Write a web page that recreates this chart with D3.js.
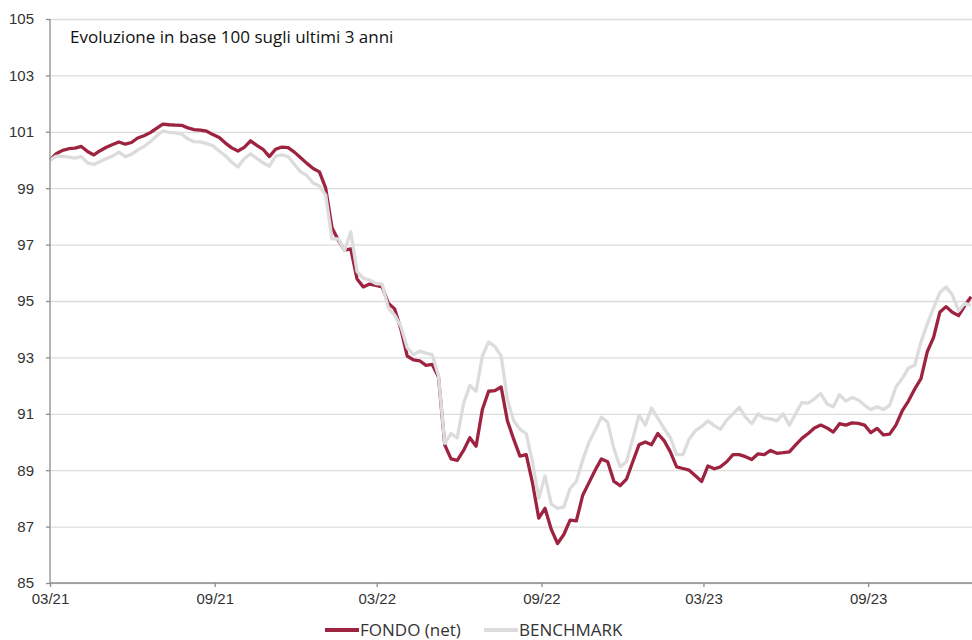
<!DOCTYPE html>
<html>
<head>
<meta charset="utf-8">
<script src="https://cdn.jsdelivr.net/npm/d3@7"></script>
<style>
  body { margin: 0; background: #fff; }
  svg { display: block; font-family: "Open Sans", sans-serif; }
  .grid line { stroke: #dcdcdc; stroke-width: 1.3; }
  .axis path, .axis line { stroke: #8c8c8c; stroke-width: 1.3; }
  .axis text { fill: #333; font-size: 15px; }
</style>
</head>
<body>
<svg id="chart"></svg>
<script>
// weekly observations (Monday)
const dates = [
  "2021-03-01","2021-03-08","2021-03-15","2021-03-22","2021-03-29","2021-04-05","2021-04-12","2021-04-19","2021-04-26","2021-05-03",
  "2021-05-10","2021-05-17","2021-05-24","2021-05-31","2021-06-07","2021-06-14","2021-06-21","2021-06-28","2021-07-05","2021-07-12",
  "2021-07-19","2021-07-26","2021-08-02","2021-08-09","2021-08-16","2021-08-23","2021-08-30","2021-09-06","2021-09-13","2021-09-20",
  "2021-09-27","2021-10-04","2021-10-11","2021-10-18","2021-10-25","2021-11-01","2021-11-08","2021-11-15","2021-11-22","2021-11-29",
  "2021-12-06","2021-12-13","2021-12-20","2021-12-27","2022-01-03","2022-01-10","2022-01-17","2022-01-24","2022-01-31","2022-02-07",
  "2022-02-14","2022-02-21","2022-02-28","2022-03-07","2022-03-14","2022-03-21","2022-03-28","2022-04-04","2022-04-11","2022-04-18",
  "2022-04-25","2022-05-02","2022-05-09","2022-05-16","2022-05-23","2022-05-30","2022-06-06","2022-06-13","2022-06-20","2022-06-27",
  "2022-07-04","2022-07-11","2022-07-18","2022-07-25","2022-08-01","2022-08-08","2022-08-15","2022-08-22","2022-08-29","2022-09-05",
  "2022-09-12","2022-09-19","2022-09-26","2022-10-03","2022-10-10","2022-10-17","2022-10-24","2022-10-31","2022-11-07","2022-11-14",
  "2022-11-21","2022-11-28","2022-12-05","2022-12-12","2022-12-19","2022-12-26","2023-01-02","2023-01-09","2023-01-16","2023-01-23",
  "2023-01-30","2023-02-06","2023-02-13","2023-02-20","2023-02-27","2023-03-06","2023-03-13","2023-03-20","2023-03-27","2023-04-03",
  "2023-04-10","2023-04-17","2023-04-24","2023-05-01","2023-05-08","2023-05-15","2023-05-22","2023-05-29","2023-06-05","2023-06-12",
  "2023-06-19","2023-06-26","2023-07-03","2023-07-10","2023-07-17","2023-07-24","2023-07-31","2023-08-07","2023-08-14","2023-08-21",
  "2023-08-28","2023-09-04","2023-09-11","2023-09-18","2023-09-25","2023-10-02","2023-10-09","2023-10-16","2023-10-23","2023-10-30",
  "2023-11-06","2023-11-13","2023-11-20","2023-11-27","2023-12-04","2023-12-11","2023-12-18","2023-12-25"
];

const fondo = [
  100.00,100.22,100.34,100.40,100.42,100.48,100.30,100.18,100.33,100.45,
  100.55,100.64,100.56,100.62,100.78,100.86,100.97,101.12,101.27,101.25,
  101.24,101.23,101.14,101.08,101.06,101.02,100.90,100.80,100.60,100.43,
  100.32,100.45,100.68,100.52,100.38,100.12,100.38,100.46,100.44,100.28,
  100.08,99.88,99.70,99.58,99.00,97.60,97.16,96.80,96.85,95.78,
  95.50,95.60,95.55,95.50,94.92,94.72,94.00,93.05,92.91,92.88,
  92.72,92.75,92.30,89.90,89.40,89.35,89.70,90.15,89.85,91.15,
  91.80,91.82,91.95,90.75,90.10,89.50,89.55,88.55,87.30,87.65,
  86.90,86.40,86.72,87.23,87.20,88.10,88.55,89.00,89.40,89.30,
  88.60,88.45,88.68,89.30,89.90,90.00,89.90,90.30,90.05,89.65,
  89.12,89.06,89.00,88.80,88.60,89.15,89.05,89.12,89.30,89.55,
  89.55,89.48,89.38,89.58,89.55,89.70,89.60,89.62,89.65,89.90,
  90.13,90.30,90.50,90.60,90.50,90.35,90.65,90.60,90.68,90.66,
  90.60,90.33,90.48,90.25,90.28,90.60,91.10,91.45,91.88,92.25,
  93.20,93.70,94.60,94.80,94.60,94.48,94.84,95.15
];

const benchmark = [
  100.00,100.14,100.13,100.10,100.07,100.12,99.90,99.84,99.95,100.05,
  100.14,100.28,100.12,100.20,100.36,100.48,100.65,100.85,101.03,100.98,
  100.96,100.92,100.75,100.65,100.64,100.58,100.50,100.32,100.15,99.92,
  99.75,100.05,100.22,100.06,99.90,99.78,100.14,100.18,100.12,99.85,
  99.58,99.45,99.18,99.08,98.75,97.20,97.20,96.78,97.45,96.05,
  95.80,95.75,95.62,95.60,94.75,94.50,94.10,93.35,93.10,93.22,
  93.15,93.10,92.35,89.95,90.30,90.15,91.37,92.00,91.80,93.05,
  93.55,93.38,93.05,91.50,90.75,90.45,90.30,89.30,88.00,88.80,
  87.80,87.65,87.70,88.35,88.60,89.35,89.98,90.42,90.88,90.70,
  89.75,89.12,89.30,90.10,90.95,90.60,91.20,90.85,90.48,90.15,
  89.55,89.55,90.10,90.40,90.55,90.75,90.58,90.45,90.78,91.00,
  91.23,90.88,90.65,91.00,90.85,90.82,90.75,91.00,90.60,91.00,
  91.40,91.38,91.53,91.72,91.35,91.25,91.68,91.45,91.58,91.49,
  91.30,91.15,91.25,91.15,91.30,91.95,92.25,92.62,92.72,93.55,
  94.18,94.75,95.30,95.50,95.22,94.65,94.92,94.85
];

const yTicks = [85, 87, 89, 91, 93, 95, 97, 99, 101, 103, 105];
const xTicks = ["2021-03-01", "2021-09-01", "2022-03-01", "2022-09-01", "2023-03-01", "2023-09-01"];
const seriesNames = ["FONDO (net)", "BENCHMARK"];
const seriesColors = ["#9e2340", "#dcdcdc"];
const title = "Evoluzione in base 100 sugli ultimi 3 anni";

class LineChart {

  constructor(_config) {
    this.config = {
      parentElement: _config.parentElement,
      containerWidth: _config.containerWidth || 972,
      containerHeight: _config.containerHeight || 640,
      margin: _config.margin || {top: 19, right: 0, bottom: 57, left: 50}
    };
    this.initVis();
  }

  initVis() {
    let vis = this;
    const m = vis.config.margin;
    vis.width = vis.config.containerWidth - m.left - m.right;
    vis.height = vis.config.containerHeight - m.top - m.bottom;

    const parse = d3.timeParse("%Y-%m-%d");
    vis.series = [fondo, benchmark].map((vals, i) => ({
      name: seriesNames[i],
      color: seriesColors[i],
      values: vals.map((v, j) => ({date: parse(dates[j]), value: v}))
    }));
    vis.xTickDates = xTicks.map(parse);

    vis.xScale = d3.scaleTime()
        .domain([parse("2021-03-01"), parse("2023-12-26")])
        .range([0, vis.width]);

    vis.yScale = d3.scaleLinear()
        .domain([85, 105])
        .range([vis.height, 0]);

    vis.svg = d3.select(vis.config.parentElement)
        .attr("width", vis.config.containerWidth)
        .attr("height", vis.config.containerHeight);

    vis.chart = vis.svg.append("g")
        .attr("transform", `translate(${m.left},${m.top})`);

    vis.renderVis();
  }

  renderVis() {
    let vis = this;

    // horizontal grid lines
    vis.chart.append("g")
        .attr("class", "grid")
        .call(d3.axisLeft(vis.yScale).tickValues(yTicks).tickSize(-vis.width).tickFormat(""))
        .call(g => g.select(".domain").remove());

    const line = d3.line()
        .x(d => vis.xScale(d.date))
        .y(d => vis.yScale(d.value));

    vis.chart.selectAll(".series")
        .data(vis.series)
        .join("path")
        .attr("class", "series")
        .attr("fill", "none")
        .attr("stroke", d => d.color)
        .attr("stroke-width", 3.3)
        .attr("stroke-linejoin", "round")
        .attr("d", d => line(d.values));

    // axes
    vis.chart.append("g")
        .attr("class", "axis")
        .call(d3.axisLeft(vis.yScale).tickValues(yTicks).tickSize(4).tickPadding(12).tickFormat(d3.format("d")))
        .call(g => g.select(".domain").attr("d", `M0,0V${vis.height}`));

    vis.chart.append("g")
        .attr("class", "axis")
        .attr("transform", `translate(0,${vis.height})`)
        .call(d3.axisBottom(vis.xScale).tickValues(vis.xTickDates).tickSize(4).tickPadding(6).tickFormat(d3.timeFormat("%m/%y")))
        .call(g => g.select(".domain").attr("d", `M0,0H${vis.width}`));

    // title
    vis.svg.append("text")
        .attr("x", 70)
        .attr("y", 43)
        .attr("fill", "#111")
        .style("font-size", "17px")
        .text(title);

    // legend
    const legend = vis.svg.append("g")
        .attr("transform", "translate(325,630)");
    const offsets = [0, 159];
    const items = legend.selectAll("g")
        .data(vis.series)
        .join("g")
        .attr("transform", (d, i) => `translate(${offsets[i]},0)`);
    items.append("line")
        .attr("x1", 0).attr("x2", 34)
        .attr("stroke", d => d.color)
        .attr("stroke-width", 4);
    items.append("text")
        .attr("x", 35)
        .attr("dy", "0.33em")
        .attr("fill", "#333")
        .style("font-size", "17px")
        .text(d => d.name);
  }
}

new LineChart({parentElement: "#chart"});
</script>
</body>
</html>
